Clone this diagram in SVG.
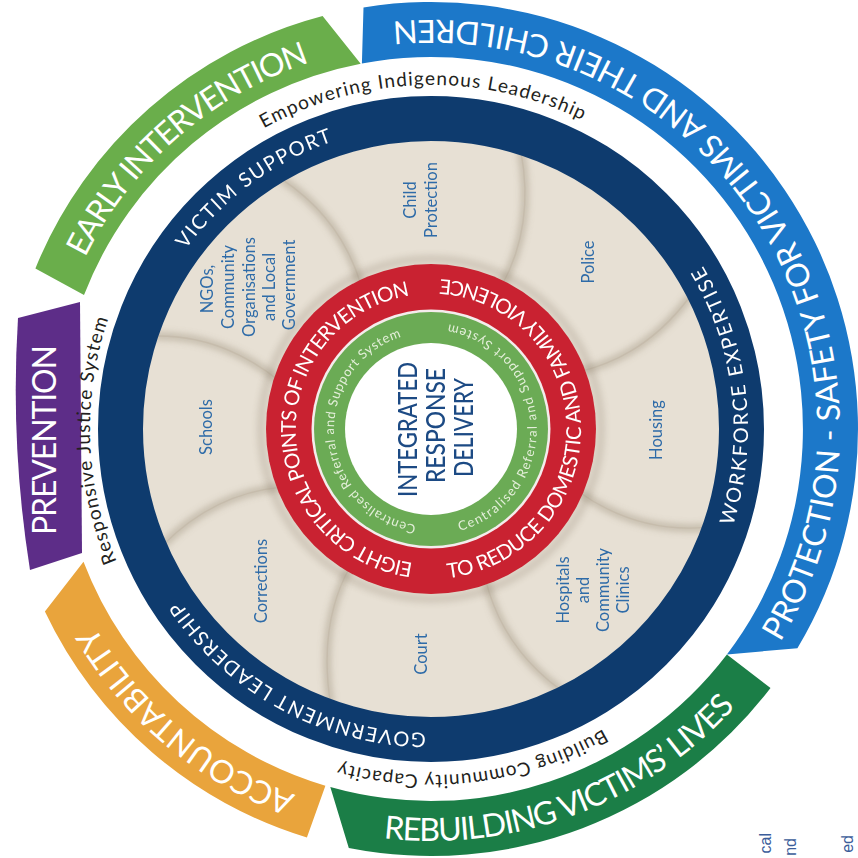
<svg xmlns="http://www.w3.org/2000/svg" width="858" height="858" viewBox="0 0 858 858">
<defs>
<style>
.rib{font-family:Lato,"Noto Sans",sans-serif;fill:#fff;font-size:32px;text-anchor:middle}
.nav{font-family:Lato,"Noto Sans",sans-serif;fill:#fff;font-size:20px;text-anchor:middle}
.gap{font-family:Lato,"Noto Sans",sans-serif;fill:#231f20;font-size:19px;text-anchor:middle}
.red{font-family:Lato,"Noto Sans",sans-serif;fill:#fff;font-size:20.5px;text-anchor:middle}
.grn{font-family:Lato,"Noto Sans",sans-serif;fill:#e4efda;font-size:13px;text-anchor:middle}
.pet{font-family:Lato,"Noto Sans",sans-serif;fill:#2e6ba8;font-size:16.5px;text-anchor:middle}
.ctr{font-family:Lato,"Noto Sans",sans-serif;fill:#1c4a84;font-size:26px;font-weight:500;text-anchor:middle}
.frag{font-family:"Liberation Sans",Arial,sans-serif;fill:#3b5d9a;font-size:16px;text-anchor:end}
.seam{fill:none;stroke:#c6bcac;stroke-width:1.4}
.seamshade{fill:none;stroke:#978a75;stroke-width:8;opacity:.4}
</style>
<filter id="soft" x="-20%" y="-20%" width="140%" height="140%"><feGaussianBlur stdDeviation="3"/></filter>
<!-- baselines for curved lettering, centred on (431,429) -->
<path id="pEarly" d="M66,303.3 A386,386 0 0 1 357.3,50.1"/>
<path id="pProt" d="M744.3,691.9 A409,409 0 0 0 332.1,32.1"/>
<path id="pRebuild" d="M359.5,834.7 A412,412 0 0 0 751.2,688.3"/>
<path id="pAcc" d="M330.1,805.7 A390,390 0 0 1 77.5,593.8"/>
<path id="pVictim" d="M177.8,260.8 A304,304 0 0 1 345.2,137.4"/>
<path id="pWork" d="M721.9,554.9 A317,317 0 0 0 685.5,240"/>
<path id="pGov" d="M440,732.9 A304,304 0 0 1 172.4,588.8"/>
<path id="pEight" d="M426.3,563.9 A135,135 0 0 1 423,294.2"/>
<path id="pReduce" d="M438.8,578.8 A150,150 0 0 0 431,279"/>
<path id="pCrsL" d="M431,526 A97,97 0 0 1 415.8,333.2"/>
<path id="pCrsR" d="M442.1,534.4 A106,106 0 0 0 431,323"/>
<path id="pEmp" d="M251.3,135.7 A344,344 0 0 1 595.2,126.7"/>
<path id="pResp" d="M141.8,609.7 A341,341 0 0 1 129.9,268.9"/>
<path id="pBuild" d="M640.4,704.4 A346,346 0 0 1 297.2,748.1"/>
</defs>

<rect width="858" height="858" fill="#fff"/>

<!-- outer ribbons -->
<g id="ribbon-early">
<path d="M35.4,268.4 A427,427 0 0 1 322.6,16 L360.7,63.7 A372,372 0 0 0 84,295.1 Z" fill="#6aae4b"/>
<text class="rib"><textPath href="#pEarly" startOffset="50%" textLength="305">EARLY INTERVENTION</textPath></text>
</g>
<g id="ribbon-protection">
<path d="M363.5,7.4 A427,427 0 0 1 797.4,648.3 L726.9,654.4 A372,372 0 0 0 361.9,63.5 Z" fill="#1c78c9"/>
<text class="rib"><textPath href="#pProt" startOffset="50%" textLength="905">PROTECTION - SAFETY FOR VICTIMS AND THEIR CHILDREN</textPath></text>
</g>
<g id="ribbon-rebuilding">
<path d="M770.5,688 A427,427 0 0 1 348.8,848 L330.3,787.1 A372,372 0 0 0 726.9,654.4 Z" fill="#1b7e47"/>
<text class="rib"><textPath href="#pRebuild" startOffset="50%" textLength="390">REBUILDING VICTIMS’ LIVES</textPath></text>
</g>
<g id="ribbon-accountability">
<path d="M306.9,837.5 A427,427 0 0 1 44.9,611.5 L83.5,561.7 A372,372 0 0 0 325.4,785.7 Z" fill="#e9a43c"/>
<text class="rib"><textPath href="#pAcc" startOffset="50%" textLength="268">ACCOUNTABILITY</textPath></text>
</g>
<g id="ribbon-prevention">
<path d="M18,318 L80,302 L82,553 L30,570 Q10,444 18,318 Z" fill="#5d2d88"/>
<text class="rib" font-size="31" transform="translate(56 440) rotate(-90)" textLength="190">PREVENTION</text>
</g>

<!-- lettering in the white band -->
<g id="band-labels">
<text class="gap"><textPath href="#pEmp" startOffset="50%" textLength="331">Empowering Indigenous Leadership</textPath></text>
<text class="gap"><textPath href="#pResp" startOffset="50%" textLength="248">Responsive Justice System</textPath></text>
<text class="gap"><textPath href="#pBuild" startOffset="50%" textLength="273">Building Community Capacity</textPath></text>
</g>

<!-- beige field of agencies -->
<circle cx="431" cy="429" r="292" fill="#e7e0d4"/>
<g id="connectors">
<g filter="url(#soft)">
<path class="seamshade" d="M154.2,336.1 Q221.4,334.7 278.6,380.4"/>
<path class="seamshade" d="M280.9,178.6 Q341.1,218.1 361,285.2"/>
<path class="seamshade" d="M520.9,151.2 Q534.7,226 501.8,285.5"/>
<path class="seamshade" d="M690.7,295.5 Q646.8,355.4 580.3,371.5"/>
<path class="seamshade" d="M706,527.4 Q636.9,533.4 578.3,491.5"/>
<path class="seamshade" d="M561.2,690.4 Q502.1,647.3 485.5,579.4"/>
<path class="seamshade" d="M330.4,703.1 Q318.3,623.9 349.9,567"/>
<path class="seamshade" d="M163,545 Q214.3,493.3 281.9,487.1"/>
</g>
<path class="seam" d="M154.2,336.1 Q221.4,334.7 278.6,380.4"/>
<path class="seam" d="M280.9,178.6 Q341.1,218.1 361,285.2"/>
<path class="seam" d="M520.9,151.2 Q534.7,226 501.8,285.5"/>
<path class="seam" d="M690.7,295.5 Q646.8,355.4 580.3,371.5"/>
<path class="seam" d="M706,527.4 Q636.9,533.4 578.3,491.5"/>
<path class="seam" d="M561.2,690.4 Q502.1,647.3 485.5,579.4"/>
<path class="seam" d="M330.4,703.1 Q318.3,623.9 349.9,567"/>
<path class="seam" d="M163,545 Q214.3,493.3 281.9,487.1"/>
</g>

<!-- navy ring -->
<g id="ring-navy">
<circle cx="431" cy="429" r="310.5" fill="none" stroke="#0e3b6e" stroke-width="45"/>
<text class="nav"><textPath href="#pVictim" startOffset="50%" textLength="185">VICTIM SUPPORT</textPath></text>
<text class="nav"><textPath href="#pWork" startOffset="50%" textLength="270">WORKFORCE EXPERTISE</textPath></text>
<text class="nav"><textPath href="#pGov" startOffset="50%" textLength="290">GOVERNMENT LEADERSHIP</textPath></text>
</g>

<!-- red ring -->
<g id="ring-red">
<circle cx="431" cy="429" r="170" fill="none" stroke="#6b5a45" stroke-width="8" opacity=".18" filter="url(#soft)"/>
<circle cx="431" cy="429" r="165" fill="#c92231"/>
<text class="red"><textPath href="#pEight" startOffset="50%" textLength="385">EIGHT CRITICAL POINTS OF INTERVENTION</textPath></text>
<text class="red"><textPath href="#pReduce" startOffset="50%" textLength="445">TO REDUCE DOMESTIC AND FAMILY VIOLENCE</textPath></text>
</g>

<!-- green referral ring -->
<g id="ring-green">
<circle cx="431" cy="429" r="119.5" fill="#f4ecec"/>
<circle cx="431" cy="429" r="117" fill="#6bab55"/>
<text class="grn"><textPath href="#pCrsL" startOffset="50%" textLength="259">Centralised Referral and Support System</textPath></text>
<text class="grn"><textPath href="#pCrsR" startOffset="50%" textLength="285">Centralised Referral and Support System</textPath></text>
</g>

<!-- centre -->
<g id="centre">
<circle cx="431" cy="429" r="86" fill="#fff"/>
<text class="ctr" transform="translate(417 429.5) rotate(-90)" textLength="135" lengthAdjust="spacingAndGlyphs">INTEGRATED</text>
<text class="ctr" transform="translate(445 425.5) rotate(-90)" textLength="115" lengthAdjust="spacingAndGlyphs">RESPONSE</text>
<text class="ctr" transform="translate(473 427.5) rotate(-90)" textLength="99" lengthAdjust="spacingAndGlyphs">DELIVERY</text>
</g>

<!-- agencies -->
<g id="child-protection">
<text class="pet" transform="translate(416 200) rotate(-90)">Child</text>
<text class="pet" transform="translate(437 200) rotate(-90)">Protection</text>
</g>
<g id="ngos">
<text class="pet" transform="translate(213 289) rotate(-90)">NGOs,</text>
<text class="pet" transform="translate(234 287) rotate(-90)">Community</text>
<text class="pet" transform="translate(255 287) rotate(-90)">Organisations</text>
<text class="pet" transform="translate(275 287) rotate(-90)">and Local</text>
<text class="pet" transform="translate(295 285) rotate(-90)">Government</text>
</g>
<g id="police"><text class="pet" transform="translate(594 262) rotate(-90)">Police</text></g>
<g id="housing"><text class="pet" transform="translate(662 430) rotate(-90)">Housing</text></g>
<g id="hospitals">
<text class="pet" transform="translate(569 590) rotate(-90)">Hospitals</text>
<text class="pet" transform="translate(589 590) rotate(-90)">and</text>
<text class="pet" transform="translate(609 590) rotate(-90)">Community</text>
<text class="pet" transform="translate(629 590) rotate(-90)">Clinics</text>
</g>
<g id="court"><text class="pet" transform="translate(427 654) rotate(-90)">Court</text></g>
<g id="corrections"><text class="pet" transform="translate(267 581) rotate(-90)">Corrections</text></g>
<g id="schools"><text class="pet" transform="translate(212 427) rotate(-90)">Schools</text></g>

<!-- page text running off the corner -->
<g id="page-edge">
<text class="frag" transform="translate(771 833) rotate(-90)">cal</text>
<text class="frag" transform="translate(796 838) rotate(-90)">nd</text>
<text class="frag" transform="translate(853 835) rotate(-90)">ed</text>
</g>
</svg>
